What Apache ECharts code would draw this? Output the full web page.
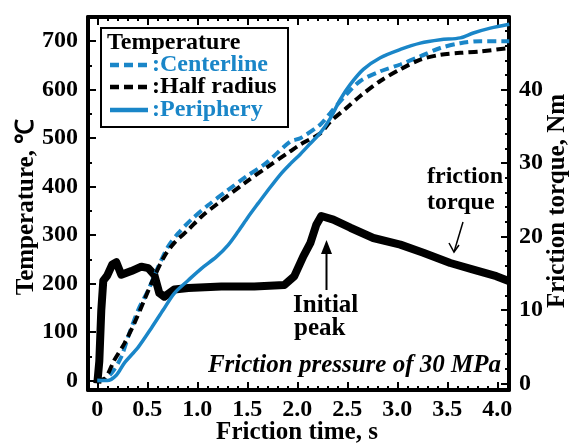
<!DOCTYPE html>
<html>
<head>
<meta charset="utf-8">
<script src="https://cdn.jsdelivr.net/npm/echarts@6/dist/echarts.min.js"></script>
<style>
html,body{margin:0;padding:0;background:#fff;}
#chart{width:571px;height:448px;}
</style>
</head>
<body>
<div id="chart"></div>
<script>
// ---------- data ----------
const centerTime = [0,0.08,0.16,0.24,0.32,0.41,0.51,0.61,0.71,0.81,0.94,1.11,1.3,1.49,1.69,1.93,2.03,2.23,2.33,2.49,2.63,2.83,3.03,3.23,3.43,3.63,3.83,4.12];
const centerTemp = [0,3,20,49,97,146,187,235,277,304,332,362,392,421,449,493,500,528,552,590,618,638,652,669,686,696,700,700];

const halfTime = [0,0.08,0.17,0.27,0.37,0.47,0.57,0.67,0.77,0.91,1.04,1.21,1.49,1.69,1.93,2.03,2.23,2.33,2.49,2.63,2.83,3.03,3.23,3.43,3.63,3.83,4.12];
const halfTemp = [0,5,42,76,118,166,214,256,284,311,338,366,410,439,473,487,510,534,562,587,618,642,662,672,676,679,686];

const periTime = [0,0.1,0.19,0.27,0.41,0.54,0.66,0.77,0.91,1.04,1.19,1.31,1.41,1.51,1.61,1.69,1.83,1.93,2.03,2.13,2.23,2.33,2.43,2.53,2.66,2.83,3.03,3.23,3.43,3.63,3.76,3.93,4.12];
const periTemp = [0,0,11,36,69,108,146,180,207,231,255,280,308,338,366,388,425,447,467,489,511,541,580,611,642,666,683,696,703,707,717,727,735];

const torqueTime = [0,0.02,0.04,0.06,0.1,0.15,0.19,0.24,0.34,0.44,0.51,0.57,0.62,0.67,0.77,0.91,1.24,1.57,1.87,1.97,2.06,2.13,2.19,2.24,2.36,2.53,2.76,3.03,3.26,3.53,3.76,3.99,4.12];
const torqueVal  = [0,3,10,14,14.7,16.2,16.5,14.8,15.3,15.9,15.7,14.8,12.3,11.8,12.8,13,13.2,13.2,13.4,14.6,17.3,19.1,21.6,22.8,22.3,21.2,19.8,18.9,17.8,16.4,15.5,14.6,13.9];

const xLabels = [0,0.5,1.0,1.5,2.0,2.5,3.0,3.5,4.0];
const tempLabels = [0,100,200,300,400,500,600,700];
const torqueLabels = [0,10,20,30,40,50];

// ---------- layout ----------
const FONT = '"Liberation Serif","Times New Roman",serif';
const FS = 25, FS2 = 24;
const BLUE = '#1a86c8';
const X_MIN = -0.093, X_MAX = 4.117;
const T_MIN = -19.6, T_MAX = 750;
const Q_MIN = -0.9, Q_MAX = 49.9;

function range(a, b, step){ const out=[]; const n=Math.round((b-a)/step); for(let i=0;i<=n;i++){ out.push(+(a+i*step).toFixed(4)); } return out; }
const xMajor = range(0,4,0.5), xMinor = range(0,4.1,0.1);
const tMajor = range(0,700,100), tMinor = range(0,750,50);
const qMajor = range(0,50,10), qMinor = range(0,50,2);

const pair = (xs, ys) => xs.map((x,i)=>[x, ys[i]]);
const lbl = {color:'#000', fontFamily:FONT, fontWeight:'bold', fontSize:24};

function xAx(pos, ticks, len, line, labels){
  return {type:'value', position:pos, min:X_MIN, max:X_MAX,
    axisLine:{show:line, onZero:false, lineStyle:{color:'#000', width:4}},
    splitLine:{show:false},
    axisTick:{show:true, inside:true, length:len, customValues:ticks, lineStyle:{color:'#000', width:2}},
    axisLabel: labels ? Object.assign({show:true, margin:8, customValues:labels,
        formatter:v => (v===0 ? '0' : v.toFixed(1))}, lbl) : {show:false}};
}
function yAx(pos, mn, mx, ticks, len, line, labels){
  return {type:'value', position:pos, min:mn, max:mx,
    axisLine:{show:line, onZero:false, lineStyle:{color:'#000', width:4}},
    splitLine:{show:false},
    axisTick:{show:true, inside:true, length:len, customValues:ticks, lineStyle:{color:'#000', width:2}},
    axisLabel: labels ? Object.assign({show:true, margin:10, customValues:labels,
        formatter:v => String(v)}, lbl) : {show:false}};
}

const chart = echarts.init(document.getElementById('chart'), null, {renderer:'canvas'});
const txt = (text, x, y, extra, rot) => ({type:'text', x:x, y:y, z:100, rotation:rot||0,
  style:Object.assign({text:text, fill:'#000', font:'bold '+FS+'px '+FONT, align:'left', verticalAlign:'middle'}, extra||{})});
const F2 = 'bold '+FS2+'px '+FONT;

chart.setOption({
  animation:false,
  backgroundColor:'#fff',
  grid:{left:88, right:62, top:17, bottom:58, containLabel:false},
  xAxis:[
    xAx('bottom', xMajor, 8, true, xLabels),
    xAx('bottom', xMinor, 4, false, null),
    xAx('top', xMajor, 8, true, null),
    xAx('top', xMinor, 4, false, null)
  ],
  yAxis:[
    yAx('left', T_MIN, T_MAX, tMajor, 8, true, tempLabels),
    yAx('left', T_MIN, T_MAX, tMinor, 4, false, null),
    yAx('right', Q_MIN, Q_MAX, qMajor, 8, true, torqueLabels),
    yAx('right', Q_MIN, Q_MAX, qMinor, 4, false, null)
  ],
  series:[
    {name:'Friction torque', type:'line', xAxisIndex:0, yAxisIndex:2, data:pair(torqueTime, torqueVal),
      showSymbol:false, lineStyle:{color:'#000', width:8, join:'round'}, z:2},
    {name:'Centerline', type:'line', xAxisIndex:0, yAxisIndex:0, data:pair(centerTime, centerTemp), smooth:0.3,
      showSymbol:false, lineStyle:{color:BLUE, width:4, type:[9,5]}, z:3},
    {name:'Half radius', type:'line', xAxisIndex:0, yAxisIndex:0, data:pair(halfTime, halfTemp), smooth:0.3,
      showSymbol:false, lineStyle:{color:'#000', width:4, type:[9,5]}, z:3},
    {name:'Periphery', type:'line', xAxisIndex:0, yAxisIndex:0, data:pair(periTime, periTemp), smooth:0.3,
      showSymbol:false, lineStyle:{color:BLUE, width:3.5}, z:4}
  ],
  graphic:[
    // axis names
    txt('Temperature, ℃', 27, 207, {align:'center'}, Math.PI/2),
    txt('Friction torque, Nm', 558, 201, {align:'center'}, Math.PI/2),
    txt('Friction time, s', 297, 433, {align:'center'}),
    // legend box
    {type:'rect', z:90, shape:{x:101, y:28, width:187, height:99}, style:{fill:'#fff', stroke:'#000', lineWidth:2}},
    txt('Temperature', 107, 43, {font:F2}),
    {type:'line', z:100, shape:{x1:110, y1:65, x2:148, y2:65}, style:{stroke:BLUE, lineWidth:4.5, lineDash:[9,5]}},
    txt(':Centerline', 152, 65, {fill:BLUE, font:F2}),
    {type:'line', z:100, shape:{x1:110, y1:87, x2:148, y2:87}, style:{stroke:'#000', lineWidth:4.5, lineDash:[9,5]}},
    txt(':Half radius', 152, 87, {font:F2}),
    {type:'line', z:100, shape:{x1:110, y1:110, x2:148, y2:110}, style:{stroke:BLUE, lineWidth:4.5}},
    txt(':Periphery', 152, 110, {fill:BLUE, font:F2}),
    // annotations
    txt('Initial', 293, 306),
    txt('peak', 294, 329),
    {type:'line', z:100, shape:{x1:326.5, y1:290, x2:326.5, y2:252}, style:{stroke:'#000', lineWidth:2}},
    {type:'polygon', z:100, shape:{points:[[326.5,240],[321,254],[332,254]]}, style:{fill:'#000'}},
    txt('friction', 427, 177, {font:F2}),
    txt('torque', 427, 203, {font:F2}),
    {type:'line', z:100, shape:{x1:463, y1:222, x2:454, y2:252}, style:{stroke:'#000', lineWidth:1.5}},
    {type:'polyline', z:100, shape:{points:[[449,243],[454,252],[459,245]]}, style:{stroke:'#000', lineWidth:1.5, fill:null}},
    txt('Friction pressure of 30 MPa', 501, 366, {align:'right', font:'italic bold '+FS+'px '+FONT})
  ]
});
</script>
</body>
</html>
